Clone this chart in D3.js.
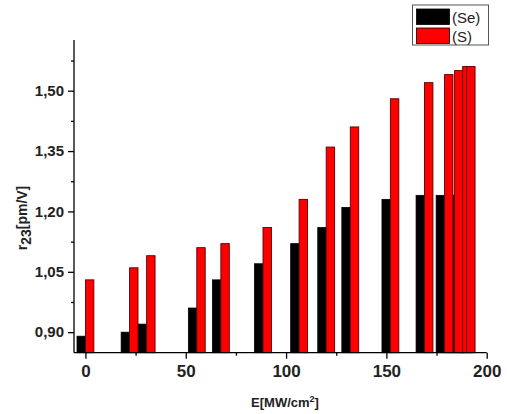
<!DOCTYPE html>
<html>
<head>
<meta charset="utf-8">
<script src="https://cdn.jsdelivr.net/npm/d3@7"></script>
<style>
  body { margin: 0; background: #fff; }
  svg { font-family: Arial, "Liberation Sans", sans-serif; }
  .tick text { font-weight: bold; font-size: 15px; fill: #222; }
  .axis path, .axis line { stroke: #000; stroke-width: 1.3; }
</style>
</head>
<body>
<svg width="507" height="414"></svg>
<script>
const energy = [0, 22, 30.5, 55.5, 67.5, 88.5, 106.5, 120, 132, 152, 169, 179, 184, 188, 190];
const se = [0.89, 0.9, 0.92, 0.96, 1.03, 1.07, 1.12, 1.16, 1.21, 1.23, 1.24, 1.24, 1.24, 1.24, 1.24];
const s = [1.03, 1.06, 1.09, 1.11, 1.12, 1.16, 1.23, 1.36, 1.41, 1.48, 1.52, 1.54, 1.55, 1.56, 1.56];
const xTicks = [0, 50, 100, 150, 200];
const yTicks = [0.9, 1.05, 1.2, 1.35, 1.5];
const seriesNames = ["(Se)", "(S)"];

const svg = d3.select("svg");
const barW = 4.2;

const x = d3.scaleLinear().domain([-5.7, 200]).range([74, 486.7]);
const y = d3.scaleLinear().domain([0.849, 1.626]).range([352.7, 40]);

const fmt = d => d3.format(".2f")(d).replace(".", ",");

// bars: all black first, then red on top
svg.append("g")
  .selectAll("rect")
  .data(energy)
  .enter()
  .append("rect")
  .attr("x", d => x(d - barW))
  .attr("width", d => x(d) - x(d - barW))
  .attr("y", (d, i) => y(se[i]))
  .attr("height", (d, i) => y.range()[0] - y(se[i]))
  .style("fill", "#000")
  .style("stroke", "#000")
  .style("stroke-width", 0.8);

svg.append("g")
  .selectAll("rect")
  .data(energy)
  .enter()
  .append("rect")
  .attr("x", d => x(d))
  .attr("width", d => x(d + barW) - x(d))
  .attr("y", (d, i) => y(s[i]))
  .attr("height", (d, i) => y.range()[0] - y(s[i]))
  .style("fill", "#ff0000")
  .style("stroke", "#5a0000")
  .style("stroke-width", 0.9);

// x axis
const xAxis = svg.append("g")
  .attr("class", "axis")
  .attr("transform", `translate(0, ${y.range()[0]})`)
  .call(d3.axisBottom(x).tickValues(xTicks).tickSize(6).tickSizeOuter(0).tickPadding(6));
xAxis.select(".domain").attr("d", `M${x.range()[0]},0H${x.range()[1]}`);
xAxis.selectAll(".tick text").style("font-size", "17px");

svg.append("g")
  .attr("class", "axis")
  .attr("transform", `translate(0, ${y.range()[0]})`)
  .call(d3.axisBottom(x).tickValues([25, 75, 125, 175]).tickSize(3).tickFormat(""))
  .select(".domain").remove();

// y axis
const yAxis = svg.append("g")
  .attr("class", "axis")
  .attr("transform", `translate(${x.range()[0]}, 0)`)
  .call(d3.axisLeft(y).tickValues(yTicks).tickFormat(fmt).tickSize(6).tickSizeOuter(0).tickPadding(4));
yAxis.select(".domain").attr("d", `M0,${y.range()[0]}V${y.range()[1]}`);

svg.append("g")
  .attr("class", "axis")
  .attr("transform", `translate(${x.range()[0]}, 0)`)
  .call(d3.axisLeft(y).tickValues([0.975, 1.125, 1.275, 1.425, 1.575]).tickSize(3).tickFormat(""))
  .select(".domain").remove();

// axis titles
const xt = svg.append("text")
  .attr("x", 285)
  .attr("y", 407)
  .attr("text-anchor", "middle")
  .style("font-weight", "bold")
  .style("font-size", "13px")
  .style("fill", "#222");
xt.append("tspan").text("E[MW/cm");
xt.append("tspan").attr("dy", -5).style("font-size", "9px").text("2");
xt.append("tspan").attr("dy", 5).text("]");

const yt = svg.append("text")
  .attr("transform", "translate(27, 218) rotate(-90)")
  .attr("text-anchor", "middle")
  .style("font-weight", "bold")
  .style("font-size", "14px")
  .style("fill", "#222");
yt.append("tspan").text("r");
yt.append("tspan").attr("dy", 4).text("23");
yt.append("tspan").attr("dy", -4).text("[pm/V]");

// legend
const legend = svg.append("g");
legend.append("rect")
  .attr("x", 412.5).attr("y", 5).attr("width", 76).attr("height", 40)
  .style("fill", "#fff").style("stroke", "#555").style("stroke-width", 1);
const colors = ["#000", "#ff0000"];
seriesNames.forEach((name, i) => {
  legend.append("rect")
    .attr("x", 416.5).attr("y", 9 + i * 19).attr("width", 33).attr("height", 15.5)
    .style("fill", colors[i]).style("stroke", "#000").style("stroke-width", 0.8);
  legend.append("text")
    .attr("x", 452).attr("y", 22.5 + i * 19)
    .style("font-size", "15px")
    .style("fill", "#222")
    .text(name);
});
</script>
</body>
</html>
